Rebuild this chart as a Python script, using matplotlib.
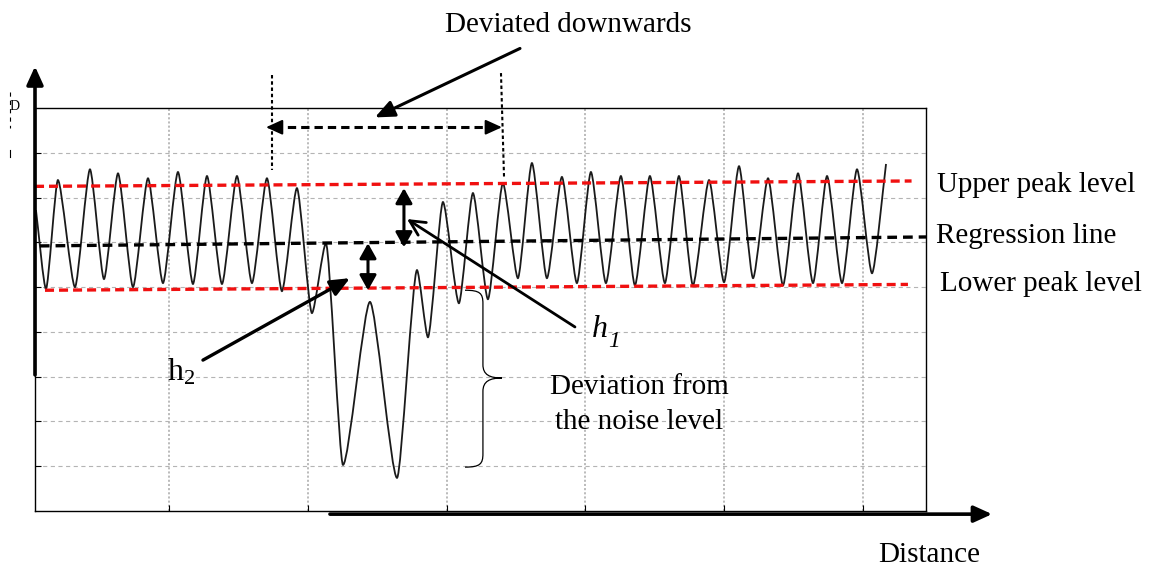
import matplotlib
matplotlib.use('Agg')
import matplotlib.pyplot as plt
from matplotlib.path import Path
from matplotlib.patches import PathPatch

plt.rcParams['font.family'] = 'Liberation Serif'
plt.rcParams['mathtext.fontset'] = 'custom'
plt.rcParams['mathtext.rm'] = 'Liberation Serif'
plt.rcParams['mathtext.it'] = 'Liberation Serif:italic'
plt.rcParams['lines.scale_dashes'] = False

# signal extrema (peaks / troughs) along the distance axis
dist = [0.042, 0.114, 0.200, 0.323, 0.431, 0.532, 0.633, 0.741, 0.849, 0.957,
        1.065, 1.173, 1.274, 1.382, 1.490, 1.598, 1.706, 1.814, 1.922, 2.030,
        2.131, 2.254, 2.448, 2.643, 2.787, 2.866, 2.974, 3.089, 3.190, 3.298,
        3.406, 3.514, 3.615, 3.723, 3.831, 3.939, 4.040, 4.148, 4.256, 4.357,
        4.465, 4.573, 4.674, 4.775, 4.891, 4.999, 5.107, 5.208, 5.316, 5.424,
        5.532, 5.640, 5.741, 5.849, 5.957, 6.065, 6.166]
amp = [6.72, 4.96, 7.39, 5.00, 7.63, 5.18, 7.54, 5.00, 7.43, 5.09,
       7.57, 5.07, 7.48, 5.07, 7.48, 5.09, 7.43, 4.91, 7.21, 4.42,
       5.98, 1.03, 4.67, 0.74, 5.38, 3.88, 6.90, 4.64, 7.10, 4.73,
       7.32, 5.20, 7.77, 5.20, 7.46, 5.09, 7.57, 5.09, 7.48, 5.04,
       7.48, 5.09, 7.48, 5.04, 7.39, 5.11, 7.70, 5.20, 7.43, 5.04,
       7.54, 5.09, 7.48, 5.09, 7.63, 5.31, 7.75]

# fitted reference levels (start, end)
upper_x, upper_y = [0.035, 6.35], [7.25, 7.37]
lower_x, lower_y = [0.107, 6.324], [4.93, 5.06]
regr_x, regr_y = [0.07, 6.454], [5.92, 6.12]

fig = plt.figure(figsize=(11.51, 5.67), dpi=100)
ax = fig.add_axes([35 / 1151, 56 / 567, 891 / 1151, 403 / 567])
ax.set_xlim(0.035, 6.454)
ax.set_ylim(0, 9)
ax.set_xticks(range(1, 7))
ax.set_yticks(range(1, 9))
ax.tick_params(direction='in', length=4, width=0.8, labelbottom=False, labelleft=False)
ax.xaxis.grid(True, color='#a8a8a8', linestyle=(0, (1.5, 1.5)), lw=1.1)
ax.yaxis.grid(True, color='#b4b4b4', linestyle=(0, (3, 2.5)), lw=0.8)
ax.set_axisbelow(True)
for s in ax.spines.values():
    s.set_linewidth(1.0)

# smooth waveform through the extrema
k = 0.22
verts = [(dist[0], amp[0])]
codes = [Path.MOVETO]
n = len(dist)
for i in range(n - 1):
    x0, y0, x1, y1 = dist[i], amp[i], dist[i + 1], amp[i + 1]
    d = (x1 - x0) * k
    c1 = (x0 + d, y0) if i > 0 else (x0 + d, y0 + (y1 - y0) * k)
    c2 = (x1 - d, y1) if i < n - 2 else (x1 - d, y1 - (y1 - y0) * k)
    verts += [c1, c2, (x1, y1)]
    codes += [Path.CURVE4] * 3
ax.add_patch(PathPatch(Path(verts, codes), fill=False, ec='#1a1a1a', lw=1.3, zorder=3))

ax.plot(upper_x, upper_y, color='#f01010', lw=2.4, dashes=(6.5, 3.6), zorder=4, clip_on=False)
ax.plot(lower_x, lower_y, color='#f01010', lw=2.4, dashes=(6.5, 3.6), zorder=4, clip_on=False)
ax.plot(regr_x, regr_y, color='k', lw=2.4, dashes=(7, 4.3), zorder=4, clip_on=False)


def arrow(tail, tip, style, lw=2.0, scale=20):
    ax.annotate('', xy=tip, xytext=tail, annotation_clip=False,
                arrowprops=dict(arrowstyle=style, lw=lw, color='k', mutation_scale=scale,
                                shrinkA=0, shrinkB=0), zorder=6)


head = '-|>,head_length=0.55,head_width=0.25'

# thick axis arrows
arrow((0.035, 3.04), (0.035, 9.93), head, lw=2.6, scale=20)
arrow((2.16, -0.07), (6.93, -0.07), head, lw=2.6, scale=20)

# deviated section markers
ax.plot([1.742, 1.742], [9.73, 7.61], color='k', lw=1.5, dashes=(2.5, 2), clip_on=False, zorder=5)
ax.plot([3.392, 3.414], [9.78, 7.46], color='k', lw=1.5, dashes=(2.5, 2), clip_on=False, zorder=5)
ax.plot([1.76, 3.34], [8.57, 8.57], color='k', lw=2.2, dashes=(6, 3.6), clip_on=False, zorder=5)
arrow((1.80, 8.57), (1.699, 8.57), head, lw=1.5, scale=18)
arrow((3.30, 8.57), (3.399, 8.57), head, lw=1.5, scale=18)
arrow((3.529, 10.33), (2.484, 8.79), '-|>,head_length=0.65,head_width=0.28', lw=2.2, scale=18)

# h1 / h2 distances
both = '<|-|>,head_length=0.5,head_width=0.28'
arrow((2.693, 5.89), (2.693, 7.21), both, lw=2.2, scale=18)
arrow((2.434, 5.98), (2.434, 4.93), both, lw=2.2, scale=18)
arrow((3.925, 4.11), (2.715, 6.52), '->,head_length=0.6,head_width=0.3', lw=2.0, scale=18)
arrow((1.245, 3.37), (2.304, 5.20), '-|>,head_length=0.65,head_width=0.28', lw=2.4, scale=18)

# curly brace next to the dip
xl, xs, xt = 3.133, 3.262, 3.399
yt, ym, yb, r = 4.93, 2.97, 0.98, 0.30
bv = [(xl, yt), (xs - 0.02, yt), (xs, yt - 0.07), (xs, yt - r),
      (xs, ym + r),
      (xs, ym + 0.07), (xs + 0.05, ym), (xt, ym),
      (xs + 0.05, ym), (xs, ym - 0.07), (xs, ym - r),
      (xs, yb + r),
      (xs, yb + 0.07), (xs - 0.02, yb), (xl, yb)]
bc = [Path.MOVETO] + [Path.CURVE4] * 3 + [Path.LINETO] + [Path.CURVE4] * 6 + [Path.LINETO] + [Path.CURVE4] * 3
ax.add_patch(PathPatch(Path(bv, bc), fill=False, ec='k', lw=0.9, clip_on=False, zorder=5))

fs = 21
ax.text(2.988, 10.69, 'Deviated downwards', fontsize=fs, ha='left', va='baseline')
ax.text(6.533, 7.12, 'Upper peak level', fontsize=fs, ha='left', va='baseline')
ax.text(6.526, 5.98, 'Regression line', fontsize=fs, ha='left', va='baseline')
ax.text(6.555, 4.91, 'Lower peak level', fontsize=fs, ha='left', va='baseline')
ax.text(6.108, -1.14, 'Distance', fontsize=fs, ha='left', va='baseline')
ax.text(4.386, 2.61, 'Deviation from', fontsize=fs, ha='center', va='baseline')
ax.text(4.386, 1.83, 'the noise level', fontsize=fs, ha='center', va='baseline')
ax.text(4.047, 3.88, 'h', fontsize=fs + 2, style='italic', ha='left', va='baseline')
ax.text(4.165, 3.66, '1', fontsize=fs - 4, style='italic', ha='left', va='baseline')
ax.text(0.986, 2.92, r'h$_2$', fontsize=fs + 2, ha='left', va='baseline')

# clipped remains of the vertical axis label
ax.text(-0.112, 9.03, 'D', fontsize=10, ha='center', va='center')
ax.plot([-0.146, -0.146], [9.35, 8.55], color='k', lw=0.8, dashes=(3, 3), clip_on=False)
ax.plot([-0.146, -0.146], [8.06, 7.90], color='k', lw=0.8, clip_on=False)

fig.savefig('out.png', dpi=100)
